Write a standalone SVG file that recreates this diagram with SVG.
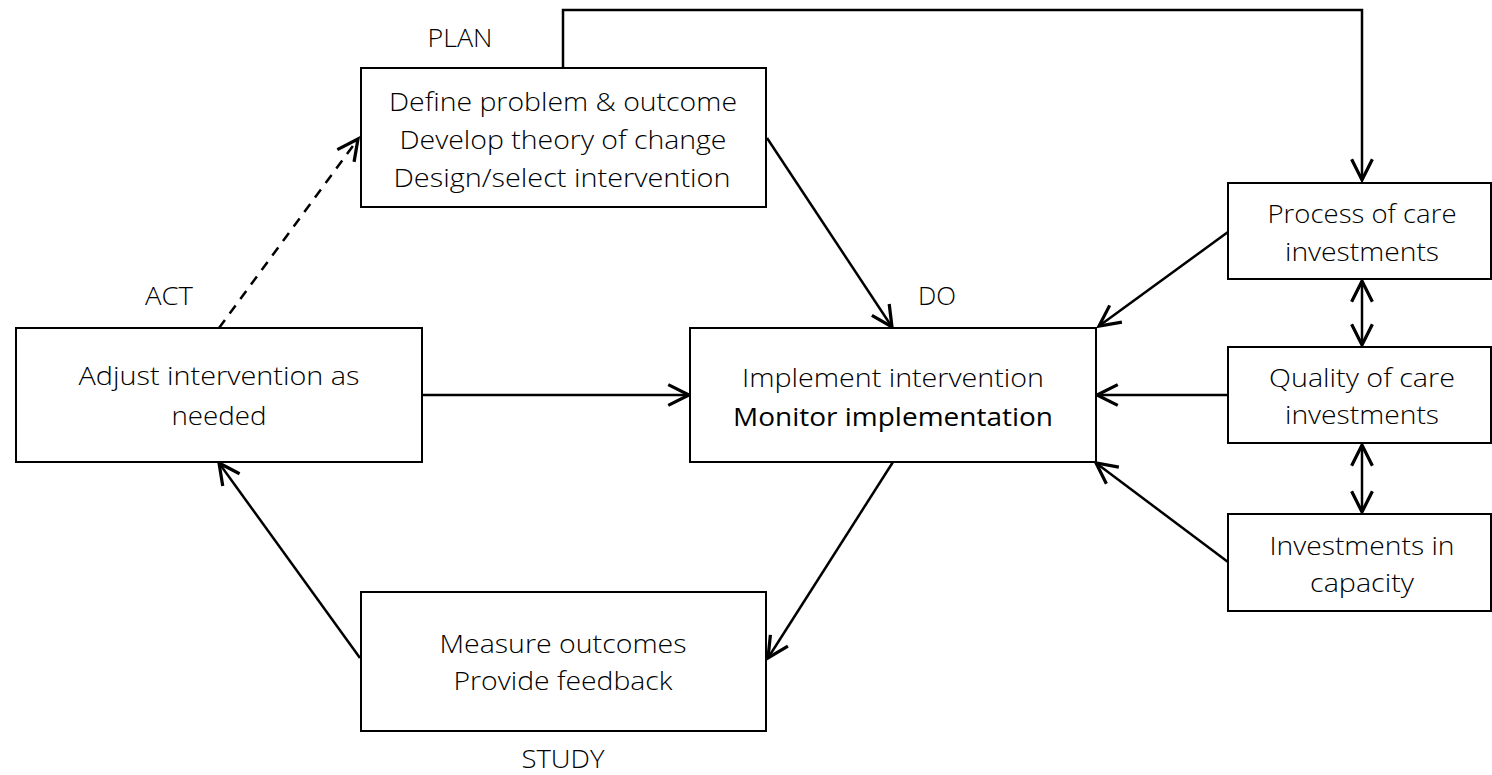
<svg xmlns="http://www.w3.org/2000/svg" width="1492" height="775" viewBox="0 0 1492 775">
<style>
.box{fill:#fff;stroke:#000;stroke-width:2}
.t{font-family:"Open Sans","Liberation Sans",sans-serif;font-weight:300;font-size:25px;fill:#000;text-anchor:middle}
.tr{font-family:"Open Sans","Liberation Sans",sans-serif;font-weight:400;font-size:26px;fill:#000;text-anchor:middle}
.c{fill:none;stroke:#000;stroke-width:2.5}
.d{stroke-dasharray:10,8}
</style>
<defs>
<marker id="ah" markerUnits="userSpaceOnUse" markerWidth="30" markerHeight="30" viewBox="-22 -12 26 24" refX="0" refY="0" orient="auto-start-reverse" overflow="visible">
<path d="M-18,-9 L0,0 L-18,9" fill="none" stroke="#000" stroke-width="2.8" stroke-linejoin="miter"/>
</marker>
</defs>
<g id="connectors">
<path class="c" d="M563,67 V10 H1362 V180" marker-end="url(#ah)"/>
<path class="c d" d="M219,328 L358,139" marker-end="url(#ah)"/>
<path class="c" d="M767,138 L892,327" marker-end="url(#ah)"/>
<path class="c" d="M422,395 L689,395" marker-end="url(#ah)"/>
<path class="c" d="M893,462 L768,658" marker-end="url(#ah)"/>
<path class="c" d="M360,658 L219,463" marker-end="url(#ah)"/>
<path class="c" d="M1228,232 L1099,326" marker-end="url(#ah)"/>
<path class="c" d="M1228,395 L1097,395" marker-end="url(#ah)"/>
<path class="c" d="M1228,562 L1096,463" marker-end="url(#ah)"/>
<path class="c" d="M1362,281 L1362,345" marker-start="url(#ah)" marker-end="url(#ah)"/>
<path class="c" d="M1362,445 L1362,512" marker-start="url(#ah)" marker-end="url(#ah)"/>
</g>
<g id="plan">
<text class="t" x="460" y="47" textLength="65" lengthAdjust="spacingAndGlyphs">PLAN</text>
<rect class="box" x="361" y="68" width="405" height="139"/>
<text class="t" x="563" y="111" textLength="348" lengthAdjust="spacingAndGlyphs">Define problem &amp; outcome</text>
<text class="t" x="563" y="149" textLength="327" lengthAdjust="spacingAndGlyphs">Develop theory of change</text>
<text class="t" x="562" y="187" textLength="337" lengthAdjust="spacingAndGlyphs">Design/select intervention</text>
</g>
<g id="do">
<text class="t" x="937" y="305" textLength="38" lengthAdjust="spacingAndGlyphs">DO</text>
<rect class="box" x="690" y="328" width="406" height="134"/>
<text class="t" x="893" y="387" textLength="302" lengthAdjust="spacingAndGlyphs">Implement intervention</text>
<text class="tr" x="893" y="426" textLength="320" lengthAdjust="spacingAndGlyphs">Monitor implementation</text>
</g>
<g id="act">
<text class="t" x="169" y="305" textLength="48" lengthAdjust="spacingAndGlyphs">ACT</text>
<rect class="box" x="16" y="328" width="406" height="134"/>
<text class="t" x="219" y="385" textLength="281" lengthAdjust="spacingAndGlyphs">Adjust intervention as</text>
<text class="t" x="219" y="425" textLength="95" lengthAdjust="spacingAndGlyphs">needed</text>
</g>
<g id="study">
<rect class="box" x="361" y="592" width="405" height="139"/>
<text class="t" x="563" y="653" textLength="247" lengthAdjust="spacingAndGlyphs">Measure outcomes</text>
<text class="t" x="563" y="690" textLength="219" lengthAdjust="spacingAndGlyphs">Provide feedback</text>
<text class="t" x="563" y="768" textLength="83" lengthAdjust="spacingAndGlyphs">STUDY</text>
</g>
<g id="process">
<rect class="box" x="1228" y="183" width="263" height="96"/>
<text class="t" x="1362" y="223" textLength="189" lengthAdjust="spacingAndGlyphs">Process of care</text>
<text class="t" x="1362" y="261" textLength="154" lengthAdjust="spacingAndGlyphs">investments</text>
</g>
<g id="quality">
<rect class="box" x="1228" y="347" width="263" height="96"/>
<text class="t" x="1362" y="387" textLength="186" lengthAdjust="spacingAndGlyphs">Quality of care</text>
<text class="t" x="1362" y="424" textLength="154" lengthAdjust="spacingAndGlyphs">investments</text>
</g>
<g id="capacity">
<rect class="box" x="1228" y="514" width="263" height="97"/>
<text class="t" x="1362" y="555" textLength="185" lengthAdjust="spacingAndGlyphs">Investments in</text>
<text class="t" x="1362" y="592" textLength="104" lengthAdjust="spacingAndGlyphs">capacity</text>
</g>
</svg>
